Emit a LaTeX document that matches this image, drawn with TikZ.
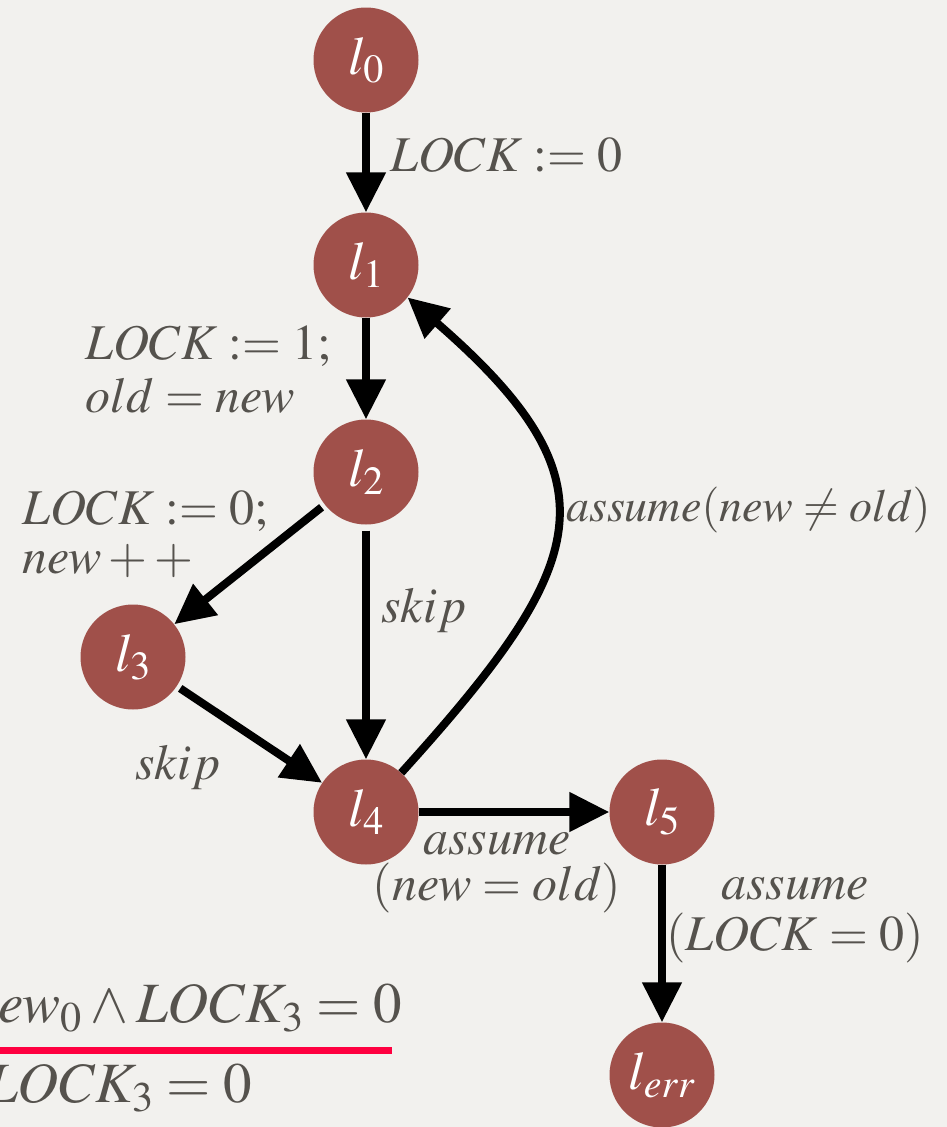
\documentclass[tikz,border=0pt]{standalone}
\usepackage{mathptmx}
\usetikzlibrary{arrows.meta}
\definecolor{bgc}{HTML}{F2F1EE}
\definecolor{nodefill}{HTML}{A0504A}
\definecolor{txt}{HTML}{55524D}
\definecolor{redline}{HTML}{FF0040}
\begin{document}
\begin{tikzpicture}[x=1pt,y=-1pt,
 loc/.style={circle,fill=nodefill,minimum size=105pt,inner sep=0pt,text=white,font=\fontsize{54}{60}\selectfont},
 lab/.style={text=txt,font=\fontsize{50}{55}\selectfont,inner sep=0pt},
 biglab/.style={text=txt,font=\fontsize{57}{62}\selectfont,inner sep=0pt},
 edge/.style={line width=8pt,draw=black,-{Triangle[length=40pt,width=38pt]}}]
\fill[bgc] (0,0) rectangle (947,1127);
\useasboundingbox (0,0) rectangle (947,1127);
\clip (0,0) rectangle (947,1127);
% nodes
\node[loc] (l0) at (366,60) {$l_0$};
\node[loc] (l1) at (366,265) {$l_1$};
\node[loc] (l2) at (366,472) {$l_2$};
\node[loc] (l3) at (133,657) {$l_3$};
\node[loc] (l4) at (366,812) {$l_4$};
\node[loc] (l5) at (662,812) {$l_5$};
\node[loc] (lerr) at (662,1075) {$l_{err}$};
% edges
\draw[edge] (l0) -- (l1);
\draw[edge] (l1) -- (l2);
\draw[edge,shorten <=4pt] (l2) -- (l3);
\draw[edge,shorten <=6pt] (l2) -- (l4);
\draw[edge,shorten <=4pt] (l3) -- (l4);
\draw[edge] (l4) -- (l5);
\draw[edge] (l5) -- (lerr);
\draw[edge] (l4.48) .. controls (591,563) and (620,482) .. (l1.-38);
% labels
\node[lab,anchor=west] (t01) at (390,155) {$LOCK\mathrel{:=} 0$};
\node[lab,anchor=west,align=left] (t12) at (85,370) {$LOCK := 1;$\\[-2pt]$old = new$};
\node[lab,anchor=west,align=left] (t23) at (22,534) {$LOCK := 0;$\\[-6pt]$new + +$};
\node[lab,anchor=west] (t24) at (381,610) {$skip$};
\node[lab,anchor=west,font=\fontsize{46}{50}\selectfont] (t41) at (566,510) {$assume(new \neq old)$};
\node[lab,anchor=west] (t34) at (135,767) {$skip$};
\node[lab,align=center] (t45) at (497,873) {$assume$\\[-9pt]$(new = old)$};
\node[lab,align=center] (t5e) at (795,920) {$assume$\\[-4pt]$(LOCK = 0)$};
% bottom-left formula
\node[biglab,anchor=east] (f1) at (402,1008) {$new_0 \mathbin{\wedge} LOCK_3 = 0$};
\draw[redline,line width=7pt] (-10,1050) -- (392,1050);
\node[biglab,anchor=east] (f2) at (252,1088) {$LOCK_3 = 0$};
\end{tikzpicture}
\end{document}
